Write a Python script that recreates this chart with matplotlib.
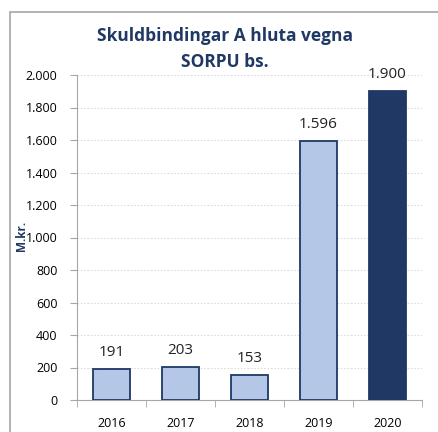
import matplotlib
matplotlib.use("Agg")
import matplotlib.pyplot as plt
from matplotlib.patches import Rectangle
from matplotlib.ticker import FuncFormatter

years = ["2016", "2017", "2018", "2019", "2020"]
values = [191, 203, 153, 1596, 1900]
title = "Skuldbindingar A hluta vegna\nSORPU bs."
ylabel = "M.kr."

navy = "#1F3864"
light = "#B4C7E7"
plt.rcParams['font.family'] = ['Open Sans', 'DejaVu Sans']

fig = plt.figure(figsize=(4.39, 4.32), dpi=100)
fig.patches.append(Rectangle((10/439, -0.1), 1.2, 1 - 12/432 + 0.1, transform=fig.transFigure,
                             fill=False, edgecolor="#A6A6A6", linewidth=1.2))
ax = fig.add_axes([77/439, 1 - 400/432, (422 - 77)/439, (400 - 75)/432])

x = list(range(len(years)))
colors = [light] * 4 + [navy]
ax.bar(x, values, width=0.54, color=colors, edgecolor=navy, linewidth=1.3, zorder=3)
for xi, v in zip(x, values):
    ax.text(xi, v + 55, f"{v:,}".replace(",", "."), ha="center", va="bottom", fontsize=11, color="#222222")

ax.set_xlim(-0.5, 4.5)
ax.set_ylim(0, 2000)
ax.set_yticks(range(0, 2001, 200))
ax.yaxis.set_major_formatter(FuncFormatter(lambda v, p: f"{int(v):,}".replace(",", ".")))
ax.set_xticks(x)
ax.set_xticklabels(years)
ax.set_xticks([i - 0.5 for i in range(6)], minor=True)
ax.tick_params(axis='x', which='major', length=0, pad=12, labelsize=9)
ax.tick_params(axis='x', which='minor', length=5, color="#A6A6A6", direction='out')
ax.tick_params(axis='y', length=5, color="#A6A6A6", labelsize=9, pad=9)
ax.grid(axis='y', color="#DDDDDD", linestyle=(0, (1.5, 1.5)), linewidth=0.8, zorder=0)
for s in ['top', 'right']:
    ax.spines[s].set_visible(False)
ax.spines['left'].set_color("#A6A6A6")
ax.spines['bottom'].set_color("#A6A6A6")

fig.text(225/439, 1 - 49/432, title, ha="center", va="center", fontsize=12.5, fontweight="bold",
         color=navy, linespacing=1.6)
fig.text(22/439, 1 - 236/432, ylabel, ha="center", va="center", rotation=90, fontsize=8.5,
         fontweight="bold", color=navy)

fig.savefig("out.png", dpi=100)
